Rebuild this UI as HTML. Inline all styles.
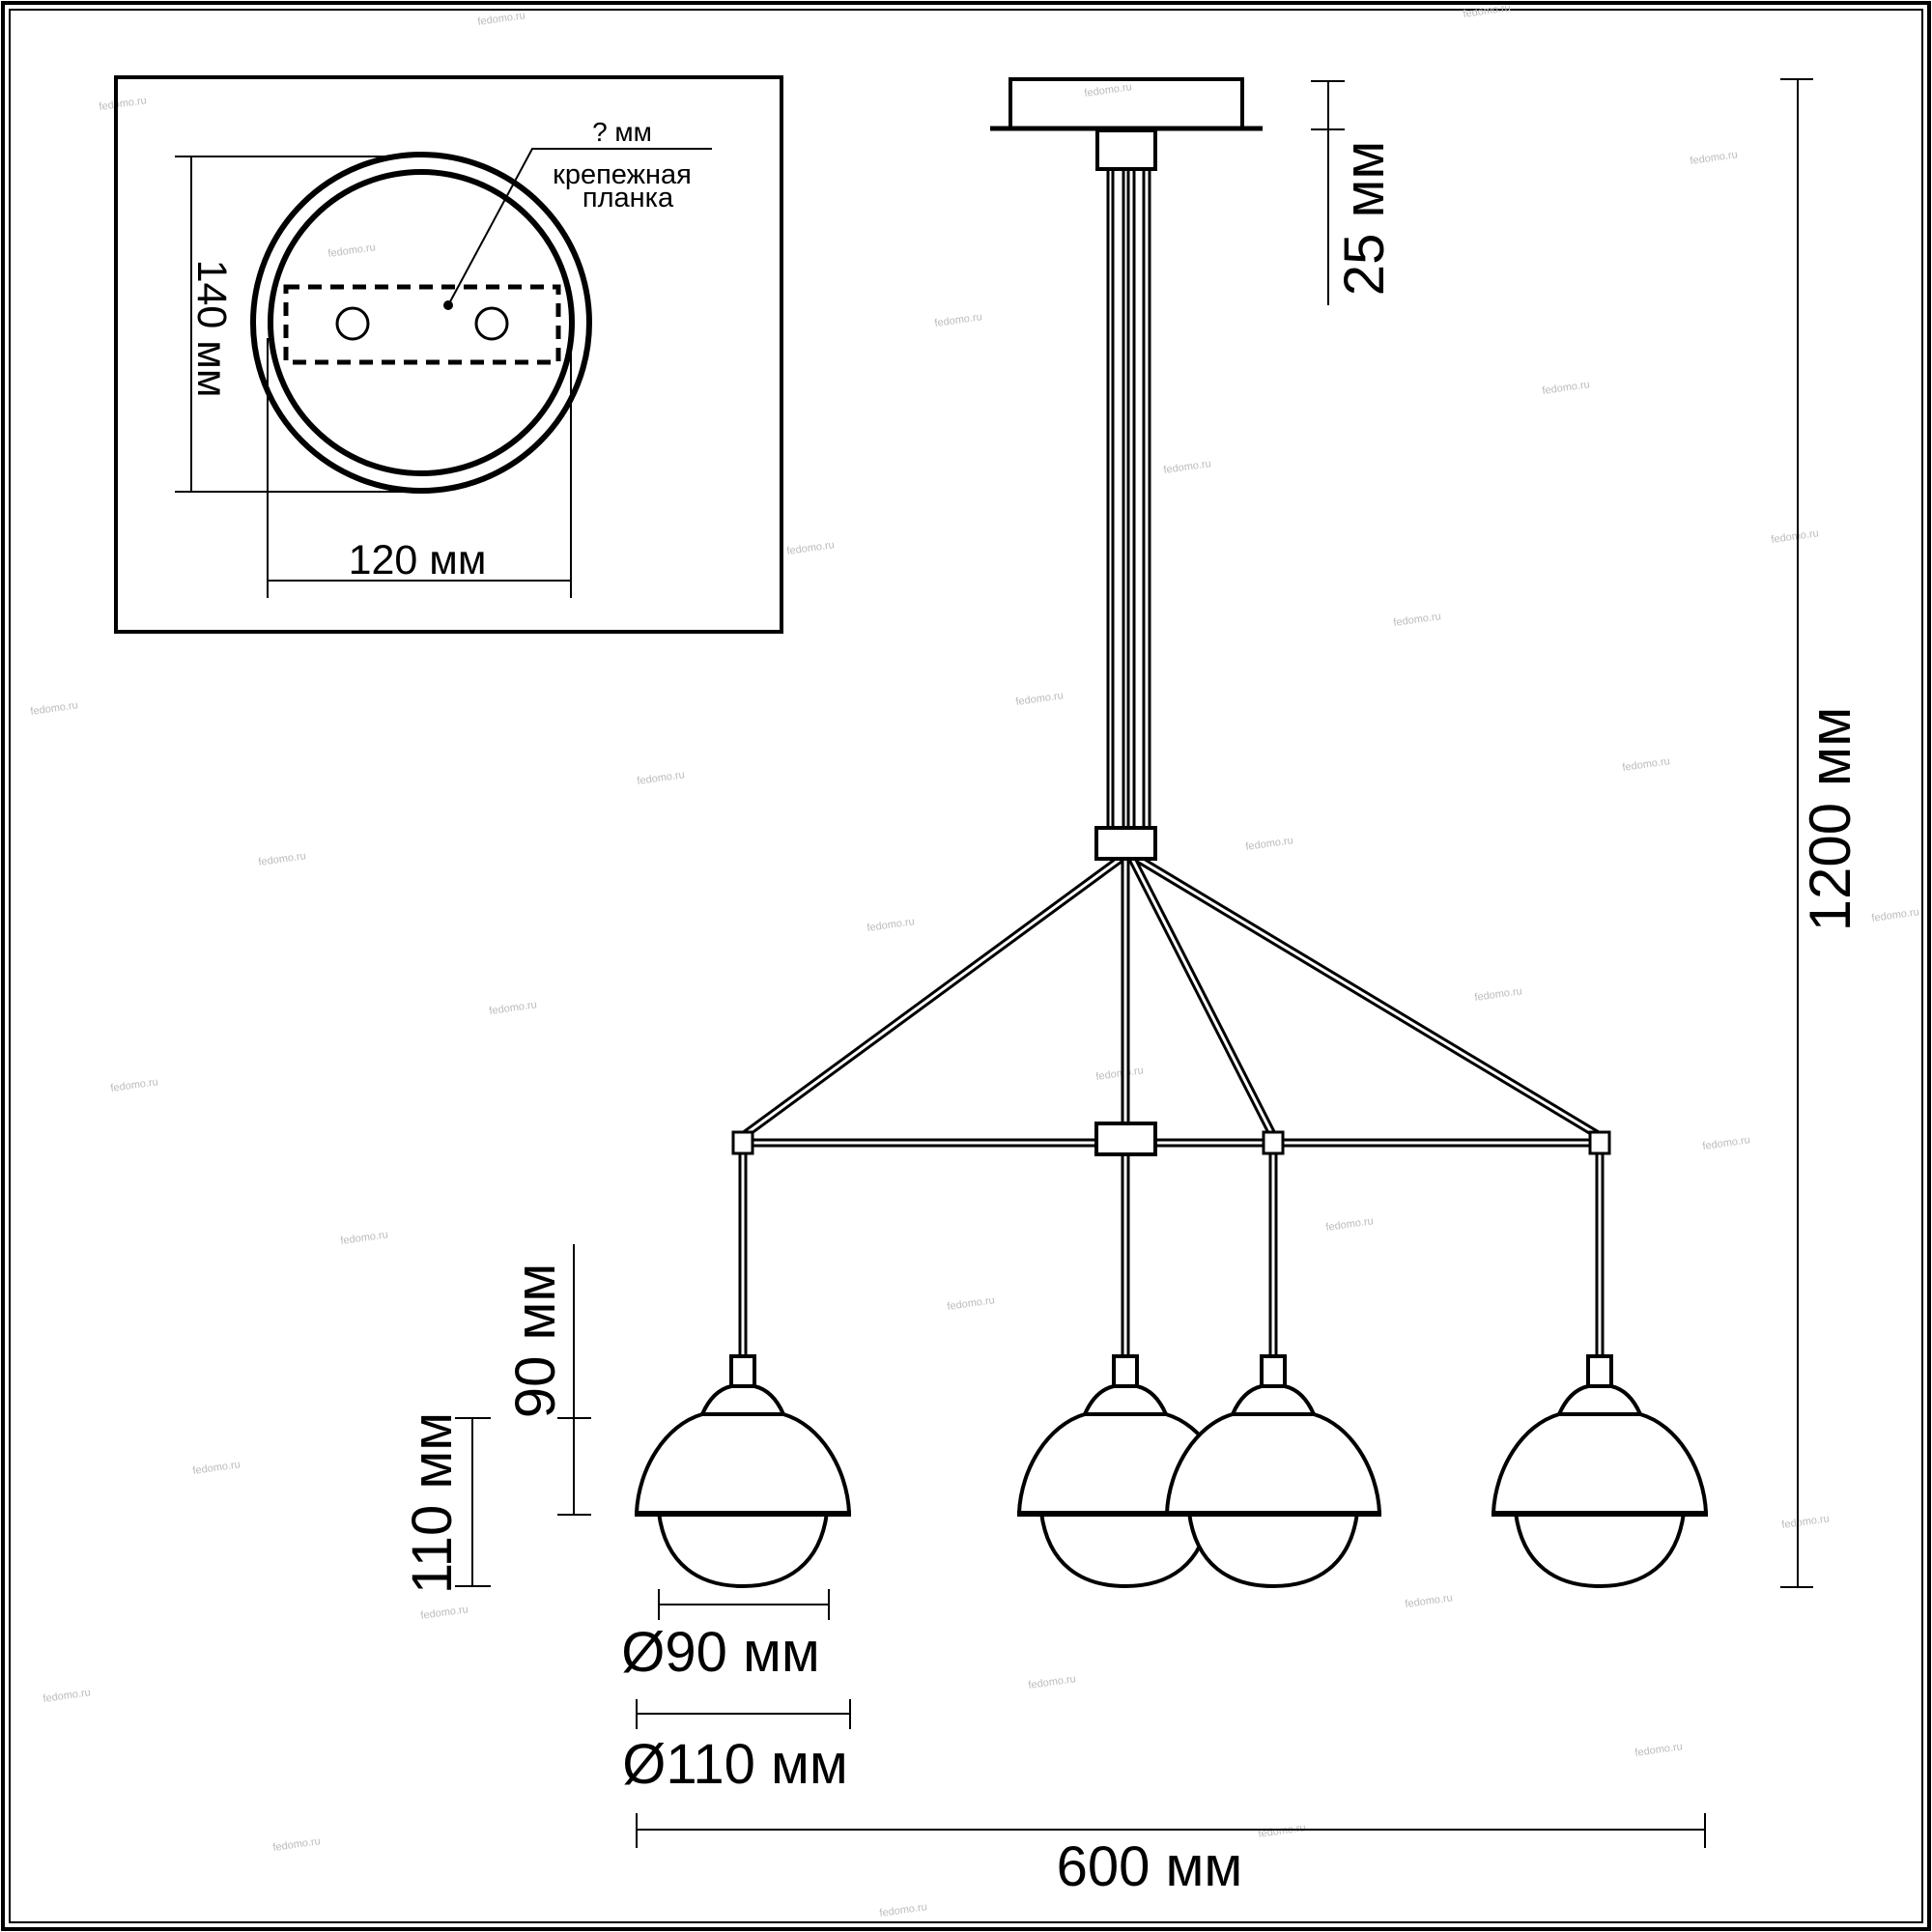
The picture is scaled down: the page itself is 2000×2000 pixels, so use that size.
<!DOCTYPE html>
<html><head><meta charset="utf-8"><style>
html,body{margin:0;padding:0;background:#fff}
svg{display:block}
text{font-family:"Liberation Sans","DejaVu Sans",sans-serif;fill:#000}
.w text{fill:#bbb;font-size:11px}
</style></head><body>
<svg width="2000" height="2000" viewBox="0 0 2000 2000" xmlns="http://www.w3.org/2000/svg">
<rect x="0" y="0" width="2000" height="2000" fill="#fff"/>
<rect x="3" y="3" width="1994" height="1994" fill="none" stroke="#000" stroke-width="4"/>
<rect x="10" y="10" width="1980" height="1980" fill="none" stroke="#000" stroke-width="2"/>

<!-- watermarks -->
<g class="w">
<text x="495" y="26" transform="rotate(-8 495 26)">fedomo.ru</text><text x="1515" y="18" transform="rotate(-8 1515 18)">fedomo.ru</text>
<text x="103" y="114" transform="rotate(-8 103 114)">fedomo.ru</text><text x="1123" y="100" transform="rotate(-8 1123 100)">fedomo.ru</text>
<text x="1750" y="170" transform="rotate(-8 1750 170)">fedomo.ru</text><text x="340" y="266" transform="rotate(-8 340 266)">fedomo.ru</text>
<text x="968" y="338" transform="rotate(-8 968 338)">fedomo.ru</text><text x="1597" y="408" transform="rotate(-8 1597 408)">fedomo.ru</text>
<text x="1205" y="490" transform="rotate(-8 1205 490)">fedomo.ru</text><text x="815" y="574" transform="rotate(-8 815 574)">fedomo.ru</text>
<text x="1834" y="562" transform="rotate(-8 1834 562)">fedomo.ru</text><text x="1443" y="648" transform="rotate(-8 1443 648)">fedomo.ru</text>
<text x="32" y="740" transform="rotate(-8 32 740)">fedomo.ru</text><text x="1052" y="730" transform="rotate(-8 1052 730)">fedomo.ru</text>
<text x="660" y="812" transform="rotate(-8 660 812)">fedomo.ru</text><text x="1680" y="798" transform="rotate(-8 1680 798)">fedomo.ru</text>
<text x="268" y="896" transform="rotate(-8 268 896)">fedomo.ru</text><text x="1290" y="880" transform="rotate(-8 1290 880)">fedomo.ru</text>
<text x="898" y="964" transform="rotate(-8 898 964)">fedomo.ru</text><text x="1938" y="954" transform="rotate(-8 1938 954)">fedomo.ru</text>
<text x="507" y="1050" transform="rotate(-8 507 1050)">fedomo.ru</text><text x="1527" y="1036" transform="rotate(-8 1527 1036)">fedomo.ru</text>
<text x="115" y="1130" transform="rotate(-8 115 1130)">fedomo.ru</text><text x="1135" y="1118" transform="rotate(-8 1135 1118)">fedomo.ru</text>
<text x="1763" y="1190" transform="rotate(-8 1763 1190)">fedomo.ru</text><text x="353" y="1288" transform="rotate(-8 353 1288)">fedomo.ru</text>
<text x="1373" y="1274" transform="rotate(-8 1373 1274)">fedomo.ru</text><text x="981" y="1356" transform="rotate(-8 981 1356)">fedomo.ru</text>
<text x="200" y="1526" transform="rotate(-8 200 1526)">fedomo.ru</text><text x="1845" y="1582" transform="rotate(-8 1845 1582)">fedomo.ru</text>
<text x="436" y="1676" transform="rotate(-8 436 1676)">fedomo.ru</text><text x="1455" y="1664" transform="rotate(-8 1455 1664)">fedomo.ru</text>
<text x="45" y="1762" transform="rotate(-8 45 1762)">fedomo.ru</text><text x="1065" y="1748" transform="rotate(-8 1065 1748)">fedomo.ru</text>
<text x="1693" y="1818" transform="rotate(-8 1693 1818)">fedomo.ru</text><text x="283" y="1916" transform="rotate(-8 283 1916)">fedomo.ru</text>
<text x="1303" y="1902" transform="rotate(-8 1303 1902)">fedomo.ru</text><text x="911" y="1984" transform="rotate(-8 911 1984)">fedomo.ru</text>
</g>

<!-- inset -->
<rect x="120" y="80" width="689" height="574" fill="none" stroke="#000" stroke-width="4"/>
<circle cx="436" cy="334" r="174" fill="none" stroke="#000" stroke-width="6"/>
<circle cx="436" cy="334" r="156" fill="none" stroke="#000" stroke-width="6"/>
<rect x="296" y="297" width="282" height="78" fill="none" stroke="#000" stroke-width="5" stroke-dasharray="14,9"/>
<circle cx="365" cy="335" r="16" fill="none" stroke="#000" stroke-width="3"/>
<circle cx="509" cy="335" r="16" fill="none" stroke="#000" stroke-width="3"/>
<circle cx="464" cy="316" r="5" fill="#000"/>
<polyline points="464,316 551,154 737,154" fill="none" stroke="#000" stroke-width="2"/>
<text x="644" y="146" font-size="28" text-anchor="middle">? мм</text>
<text x="644" y="190" font-size="29" text-anchor="middle">крепежная</text>
<text x="650" y="214" font-size="29" text-anchor="middle">планка</text>
<line x1="198" y1="162" x2="198" y2="509" stroke="#000" stroke-width="2"/>
<line x1="181" y1="162" x2="436" y2="162" stroke="#000" stroke-width="2"/>
<line x1="181" y1="509" x2="436" y2="509" stroke="#000" stroke-width="2"/>
<text transform="translate(205,340) rotate(90)" font-size="43" text-anchor="middle">140 мм</text>
<line x1="277" y1="350" x2="277" y2="619" stroke="#000" stroke-width="2"/>
<line x1="591" y1="350" x2="591" y2="619" stroke="#000" stroke-width="2"/>
<line x1="277" y1="601" x2="591" y2="601" stroke="#000" stroke-width="2"/>
<text x="432" y="594" font-size="43" text-anchor="middle">120 мм</text>

<!-- canopy -->
<rect x="1046" y="82" width="240" height="51" fill="none" stroke="#000" stroke-width="4"/>
<line x1="1025" y1="133" x2="1307" y2="133" stroke="#000" stroke-width="5"/>
<rect x="1136" y="135" width="60" height="40" fill="none" stroke="#000" stroke-width="4"/>
<g stroke="#000" stroke-width="3">
<line x1="1147" y1="175" x2="1147" y2="858"/><line x1="1152" y1="175" x2="1152" y2="858"/>
<line x1="1163" y1="175" x2="1163" y2="858"/><line x1="1168" y1="175" x2="1168" y2="858"/>
<line x1="1174" y1="175" x2="1174" y2="858"/><line x1="1184" y1="175" x2="1184" y2="858"/>
<line x1="1190" y1="175" x2="1190" y2="858"/>
</g>

<!-- arms double lines -->
<g stroke="#000" stroke-width="9" fill="none">
<line x1="1160" y1="889" x2="769" y2="1176"/>
<line x1="1165" y1="889" x2="1165" y2="1163"/>
<line x1="1172" y1="889" x2="1318" y2="1176"/>
<line x1="1178" y1="889" x2="1656" y2="1176"/>
<line x1="769" y1="1183" x2="1656" y2="1183"/>
<line x1="769" y1="1190" x2="769" y2="1404"/>
<line x1="1165" y1="1195" x2="1165" y2="1404"/>
<line x1="1318" y1="1190" x2="1318" y2="1404"/>
<line x1="1656" y1="1190" x2="1656" y2="1404"/>
</g>
<g stroke="#fff" stroke-width="3" fill="none">
<line x1="1160" y1="889" x2="769" y2="1176"/>
<line x1="1165" y1="889" x2="1165" y2="1163"/>
<line x1="1172" y1="889" x2="1318" y2="1176"/>
<line x1="1178" y1="889" x2="1656" y2="1176"/>
<line x1="769" y1="1183" x2="1656" y2="1183"/>
<line x1="769" y1="1190" x2="769" y2="1404"/>
<line x1="1165" y1="1195" x2="1165" y2="1404"/>
<line x1="1318" y1="1190" x2="1318" y2="1404"/>
<line x1="1656" y1="1190" x2="1656" y2="1404"/>
</g>
<rect x="1135" y="857" width="61" height="32" fill="#fff" stroke="#000" stroke-width="4"/>
<rect x="1135" y="1163" width="61" height="32" fill="#fff" stroke="#000" stroke-width="4"/>
<rect x="759" y="1172" width="20" height="22" fill="#fff" stroke="#000" stroke-width="3"/>
<rect x="1308" y="1172" width="20" height="22" fill="#fff" stroke="#000" stroke-width="3"/>
<rect x="1646" y="1172" width="20" height="22" fill="#fff" stroke="#000" stroke-width="3"/>

<!-- lamps -->
<defs>
<g id="lamp">
<rect x="-12" y="1404" width="24" height="31" fill="#fff" stroke="#000" stroke-width="4"/>
<path d="M-87,1566 C-80,1620 -45,1642 0,1642 C45,1642 80,1620 87,1566 Z" fill="#fff" stroke="#000" stroke-width="4"/>
<path d="M-110,1566 C-108,1520 -80,1475 -42,1464 L42,1464 C80,1475 108,1520 110,1566 Z" fill="#fff" stroke="#000" stroke-width="4"/>
<path d="M-42,1464 C-35,1448 -25,1438 -12,1435 L12,1435 C25,1438 35,1448 42,1464 Z" fill="#fff" stroke="#000" stroke-width="4"/>
<line x1="-112" y1="1567" x2="112" y2="1567" stroke="#000" stroke-width="6"/>
</g>
</defs>
<use href="#lamp" x="769"/>
<use href="#lamp" x="1165"/>
<use href="#lamp" x="1318"/>
<use href="#lamp" x="1656"/>

<!-- dims -->
<g stroke="#000" stroke-width="2">
<line x1="1375" y1="84" x2="1375" y2="316"/>
<line x1="1357" y1="84" x2="1392" y2="84"/>
<line x1="1357" y1="134" x2="1392" y2="134"/>
<line x1="1861" y1="82" x2="1861" y2="1643"/>
<line x1="1843" y1="82" x2="1877" y2="82"/>
<line x1="1843" y1="1643" x2="1877" y2="1643"/>
<line x1="594" y1="1288" x2="594" y2="1568"/>
<line x1="577" y1="1468" x2="612" y2="1468"/>
<line x1="577" y1="1568" x2="612" y2="1568"/>
<line x1="489" y1="1468" x2="489" y2="1642"/>
<line x1="471" y1="1468" x2="508" y2="1468"/>
<line x1="471" y1="1642" x2="508" y2="1642"/>
<line x1="682" y1="1661" x2="858" y2="1661"/>
<line x1="682" y1="1645" x2="682" y2="1677"/>
<line x1="858" y1="1645" x2="858" y2="1677"/>
<line x1="659" y1="1774" x2="880" y2="1774"/>
<line x1="659" y1="1759" x2="659" y2="1790"/>
<line x1="880" y1="1759" x2="880" y2="1790"/>
<line x1="659" y1="1894" x2="1765" y2="1894"/>
<line x1="659" y1="1877" x2="659" y2="1913"/>
<line x1="1765" y1="1877" x2="1765" y2="1913"/>
</g>
<text transform="translate(1432,226) rotate(-90)" font-size="58" text-anchor="middle">25 мм</text>
<text transform="translate(1915,848) rotate(-90)" font-size="60" text-anchor="middle">1200 мм</text>
<text transform="translate(574,1388) rotate(-90)" font-size="58" text-anchor="middle">90 мм</text>
<text transform="translate(467,1556) rotate(-90)" font-size="58" text-anchor="middle">110 мм</text>
<text x="746" y="1730" font-size="58" text-anchor="middle">Ø90 мм</text>
<text x="761" y="1846" font-size="58" text-anchor="middle">Ø110 мм</text>
<text x="1190" y="1952" font-size="58" text-anchor="middle">600 мм</text>
</svg>
</body></html>
